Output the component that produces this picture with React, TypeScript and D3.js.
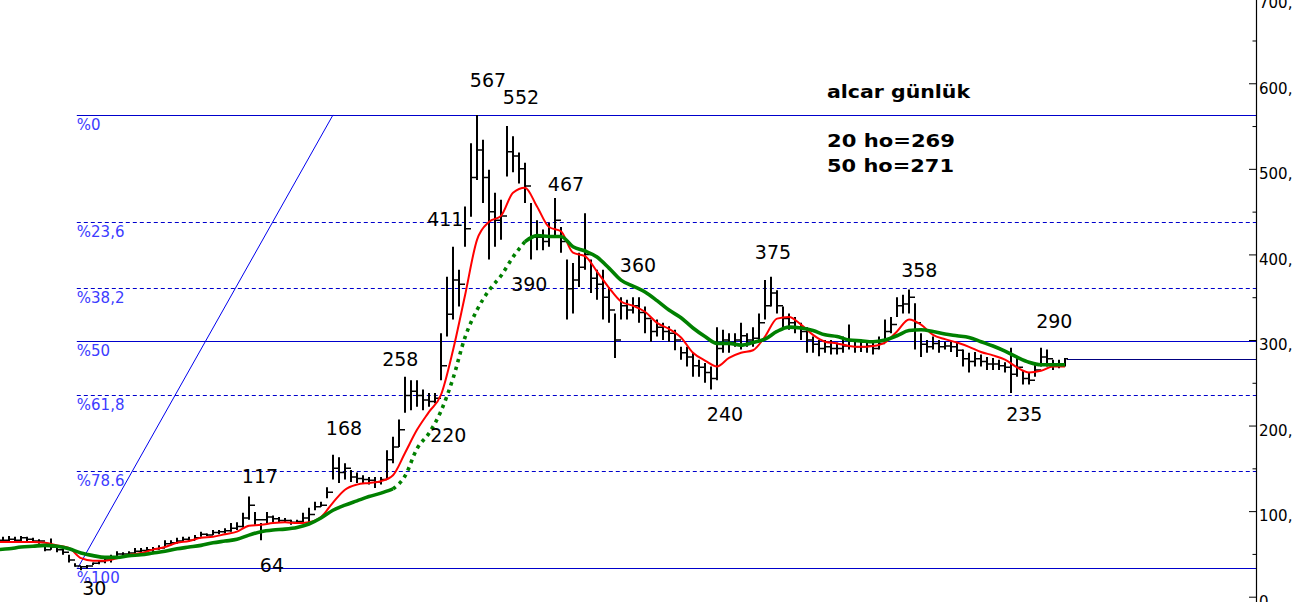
import * as d3 from "d3";
import { useRef, useEffect } from "react";

// daily bars, sampled every 6px of the picture
const highs = [
  70, 71, 70, 71, 70, 69, 67, 58, 68, 58,
  57, 49, 39, 36, 37, 40, 43, 45, 49, 53,
  52, 53, 57, 57, 58, 58, 60, 66, 66, 69,
  70, 70, 72, 76, 74, 78, 78, 80, 86, 87,
  98, 117, 99, 86, 99, 95, 93, 92, 90, 90,
  98, 104, 111, 111, 128, 166, 163, 156, 148, 145,
  142, 140, 140, 140, 171, 187, 207, 257, 253, 253,
  242, 238, 238, 308, 374, 409, 382, 456, 530, 563,
  534, 499, 472, 464, 550, 538, 519, 507, 460, 440,
  429, 437, 466, 432, 394, 390, 402, 448, 394, 382,
  382, 362, 331, 350, 347, 350, 350, 339, 324, 324,
  320, 316, 312, 292, 292, 285, 277, 273, 269, 315,
  312, 308, 308, 320, 308, 315, 331, 370, 374, 358,
  339, 331, 327, 320, 315, 304, 300, 300, 300, 297,
  304, 318, 300, 298, 300, 297, 304, 324, 327, 350,
  353, 359, 343, 308, 300, 304, 300, 298, 298, 297,
  289, 285, 286, 283, 280, 279, 277, 274, 291, 280,
  265, 262, 273, 291, 289, 277, 277, 279
];

const lows = [
  63, 64, 63, 65, 64, 63, 62, 53, 55, 52,
  49, 40, 35, 31, 33, 37, 38, 39, 40, 46,
  48, 49, 50, 51, 52, 52, 55, 58, 60, 62,
  64, 64, 66, 70, 71, 72, 73, 74, 76, 78,
  81, 90, 84, 66, 86, 87, 86, 86, 84, 86,
  86, 87, 101, 105, 115, 137, 133, 137, 134, 133,
  133, 131, 127, 131, 137, 156, 175, 215, 218, 222,
  218, 222, 226, 253, 304, 324, 339, 409, 444, 487,
  460, 394, 409, 417, 491, 496, 483, 460, 394, 405,
  405, 409, 420, 402, 324, 331, 362, 382, 355, 347,
  324, 320, 279, 324, 324, 331, 320, 308, 298, 304,
  300, 298, 288, 277, 269, 257, 257, 250, 242, 253,
  285, 285, 292, 289, 292, 292, 300, 324, 339, 331,
  315, 312, 308, 300, 285, 285, 281, 285, 283, 283,
  285, 289, 285, 286, 285, 283, 289, 300, 308, 327,
  331, 331, 289, 280, 285, 289, 285, 289, 286, 280,
  269, 262, 269, 269, 265, 265, 265, 262, 238, 257,
  248, 248, 257, 269, 269, 265, 267, 269
];

const closes = [
  66, 67, 66, 69, 67, 65, 65, 55, 58, 55,
  52, 43, 36, 35, 36, 39, 41, 43, 46, 50,
  50, 51, 53, 54, 55, 56, 57, 62, 63, 65,
  67, 66, 69, 73, 72, 75, 76, 77, 80, 82,
  92, 107, 90, 90, 93, 91, 89, 89, 87, 88,
  92, 96, 105, 107, 122, 150, 145, 150, 140, 138,
  137, 136, 134, 137, 160, 175, 195, 235, 240, 235,
  230, 228, 232, 270, 330, 370, 365, 430, 490, 522,
  490, 450, 440, 445, 520, 515, 500, 480, 420, 420,
  415, 420, 440, 415, 360, 370, 385, 400, 372, 365,
  350, 335, 300, 340, 335, 340, 332, 325, 310, 315,
  310, 308, 300, 285, 280, 270, 268, 262, 255, 290,
  300, 297, 300, 305, 300, 302, 320, 340, 355, 340,
  325, 320, 315, 310, 300, 295, 290, 292, 290, 290,
  293, 300, 292, 292, 293, 290, 296, 310, 318, 340,
  342, 350, 320, 295, 292, 296, 292, 293, 292, 288,
  278, 275, 278, 275, 272, 272, 270, 268, 260, 268,
  255, 253, 265, 280, 278, 272, 272, 278
];

// moving averages, one point every second bar (starting one bar before the first)
const ma20 = [
  64, 64, 64, 64, 63, 60, 57, 45, 42, 42,
  45, 49, 51, 55, 58, 63, 65, 69, 70, 73,
  76, 83, 84, 86, 87, 86, 87, 93, 110, 125,
  131, 133, 135, 142, 168, 195, 216, 236, 288, 352,
  417, 438, 445, 472, 478, 456, 432, 427, 402, 398,
  380, 361, 345, 340, 333, 320, 313, 303, 285, 276,
  269, 279, 285, 288, 304, 325, 327, 318, 306, 298,
  296, 293, 292, 293, 297, 310, 324, 318, 306, 301,
  297, 292, 286, 282, 277, 268, 262, 264, 269, 269
];

const ma50 = [
  55, 56, 58, 59, 60, 59, 56, 51, 48, 46,
  46, 48, 49, 51, 53, 56, 58, 60, 63, 65,
  67, 72, 76, 78, 79, 81, 85, 92, 101, 107,
  112, 117, 121, 126, 141, 173, 191, 217, 255, 303,
  335, 358, 375, 397, 415, 422, 421, 421, 409, 404,
  397, 384, 370, 363, 356, 346, 335, 326, 314, 304,
  296, 296, 294, 297, 301, 310, 315, 314, 311, 306,
  304, 300, 299, 298, 300, 305, 311, 312, 310, 307,
  305, 303, 298, 293, 287, 280, 274, 271, 271, 271
];

const fibHigh = 563;
const fibLow = 34;
const fibLevels = [0, 23.6, 38.2, 50, 61.8, 78.6, 100];
const fibLabels = ["%0", "%23,6", "%38,2", "%50", "%61,8", "%78.6", "%100"];
const fibDashed = [false, true, true, false, true, true, false];

const yTicks = [0, 100, 200, 300, 400, 500, 600, 700];
const yMinorTicks = [50, 150, 250, 350, 450, 550, 650];

const noteText = ["567", "552", "467", "411", "390", "360", "375", "358", "290", "240", "235", "258", "220", "168", "117", "64", "30"];
const noteIdx = [77.8, 83.3, 90.8, 70.7, 84.7, 102.8, 125.3, 149.7, 172.2, 117.3, 167.2, 63.2, 71.2, 53.8, 39.8, 42.8, 13.2];
const noteVal = [596, 576, 474, 433, 357, 380, 395, 374, 314, 205, 205, 270, 181, 189, 133, 29, 2];

const titleLines = ["alcar günlük", "20 ho=269", "50 ho=271"];

const W = 1302;
const H = 602;

export default function App() {
  const ref = useRef<SVGSVGElement | null>(null);

  useEffect(() => {
    const svg = d3.select(ref.current);
    svg.selectAll("*").remove();

    const axisX = 1256;
    const n = closes.length;
    const x = d3.scaleLinear().domain([0, n - 1]).range([3, 1065]);
    const y = d3.scaleLinear().domain([0, 700]).range([596.7, -2.3]);
    const font = "DejaVu Sans, Verdana, sans-serif";

    svg.append("rect").attr("width", W).attr("height", H).attr("fill", "#fff");

    // fibonacci retracement lines
    const fibStart = 12.3;
    const fib = svg.append("g");
    fibLevels.forEach((p, k) => {
      const v = fibHigh - ((fibHigh - fibLow) * p) / 100;
      fib.append("line")
        .attr("x1", x(fibStart)).attr("x2", axisX)
        .attr("y1", Math.round(y(v)) + 0.5).attr("y2", Math.round(y(v)) + 0.5)
        .attr("stroke", "#0000cc")
        .attr("stroke-width", 1)
        .attr("stroke-dasharray", fibDashed[k] ? "4 3" : null);
      fib.append("text")
        .attr("x", x(fibStart))
        .attr("y", y(v) + 15)
        .attr("fill", "#3c3cff")
        .style("font", `15px ${font}`)
        .text(fibLabels[k]);
    });

    // trend line from the low to the high
    const trend = [{ i: 12.5, v: fibLow }, { i: 55, v: fibHigh }];
    svg.append("path")
      .attr("d", d3.line<any>().x(d => x(d.i)).y(d => y(d.v))(trend))
      .attr("fill", "none")
      .attr("stroke", "#0000ee")
      .attr("stroke-width", 1);

    // last price line
    const lastY = Math.round(y(closes[n - 1])) + 0.5;
    svg.append("line")
      .attr("x1", x(n - 1) + 2).attr("x2", axisX)
      .attr("y1", lastY).attr("y2", lastY)
      .attr("stroke", "#000080")
      .attr("stroke-width", 1);

    // OHLC bars
    let dv = "";
    let dt = "";
    for (let i = 0; i < n; i++) {
      const xi = x(i);
      const open = i > 0 ? closes[i - 1] : closes[0];
      dv += `M${xi},${y(highs[i])}V${y(lows[i])}`;
      dt += `M${xi - 3},${y(open)}H${xi}`;
      dt += `M${xi},${y(closes[i])}H${xi + 3}`;
    }
    svg.append("path")
      .attr("d", dv)
      .attr("fill", "none")
      .attr("stroke", "#000")
      .attr("stroke-width", 2);
    svg.append("path")
      .attr("d", dt)
      .attr("fill", "none")
      .attr("stroke", "#000")
      .attr("stroke-width", 1.5);

    // moving averages
    const maLine = d3.line<number>()
      .x((_, k) => x(2 * k - 1))
      .y(v => y(v))
      .curve(d3.curveMonotoneX);

    svg.append("path")
      .attr("d", maLine(ma20))
      .attr("fill", "none")
      .attr("stroke", "#ff0000")
      .attr("stroke-width", 2);

    const maSeg = (from: number, to: number) =>
      d3.line<number>()
        .x((_, k) => x(2 * (k + from) - 1))
        .y(v => y(v))
        .curve(d3.curveMonotoneX)(ma50.slice(from, to));

    const dotFrom = 33;
    const dotTo = 44;
    [[0, dotFrom + 1], [dotTo, ma50.length]].forEach(([a, b]) => {
      svg.append("path")
        .attr("d", maSeg(a, b))
        .attr("fill", "none")
        .attr("stroke", "#008000")
        .attr("stroke-width", 3.6);
    });
    svg.append("path")
      .attr("d", maSeg(dotFrom, dotTo + 1))
      .attr("fill", "none")
      .attr("stroke", "#008000")
      .attr("stroke-width", 3.6)
      .attr("stroke-dasharray", "3.5 4.5");

    // price notes
    const notes = svg.append("g").style("font", `19px ${font}`).attr("fill", "#000");
    noteText.forEach((t, k) => {
      notes.append("text").attr("x", x(noteIdx[k])).attr("y", y(noteVal[k])).text(t);
    });

    // title block
    const title = svg.append("g")
      .style("font", `bold 17px ${font}`)
      .attr("fill", "#000");
    const titleY = [98, 147, 172];
    const titleW = [143, 128, 127];
    titleLines.forEach((t, k) => {
      title.append("text")
        .attr("x", 827)
        .attr("y", titleY[k])
        .attr("textLength", titleW[k])
        .attr("lengthAdjust", "spacingAndGlyphs")
        .text(t);
    });

    // right axis
    const ax = svg.append("g").attr("transform", `translate(${axisX},0)`);
    ax.call(
      d3.axisRight(y)
        .tickValues(yTicks)
        .tickSizeInner(-7)
        .tickSizeOuter(0)
        .tickPadding(3)
        .tickFormat(v => `${v},`)
    );
    ax.select(".domain").remove();
    ax.selectAll("text")
      .attr("dy", "0.65em")
      .attr("fill", "#000")
      .style("font", `15px ${font}`);
    ax.selectAll("line").attr("stroke", "#000");

    const minor = svg.append("g").attr("transform", `translate(${axisX},0)`);
    minor.call(
      d3.axisRight(y)
        .tickValues(yMinorTicks)
        .tickSizeInner(-3.5)
        .tickSizeOuter(0)
        .tickFormat(() => "")
    );
    minor.select(".domain").remove();
    minor.selectAll("line").attr("stroke", "#000");

    svg.append("line")
      .attr("x1", axisX + 0.5).attr("x2", axisX + 0.5)
      .attr("y1", 0).attr("y2", H)
      .attr("stroke", "#000")
      .attr("stroke-width", 1.2);
  }, []);

  return (
    <svg
      ref={ref}
      width={W}
      height={H}
      style={{ position: "absolute", left: 0, top: 0, display: "block" }}
    />
  );
}
